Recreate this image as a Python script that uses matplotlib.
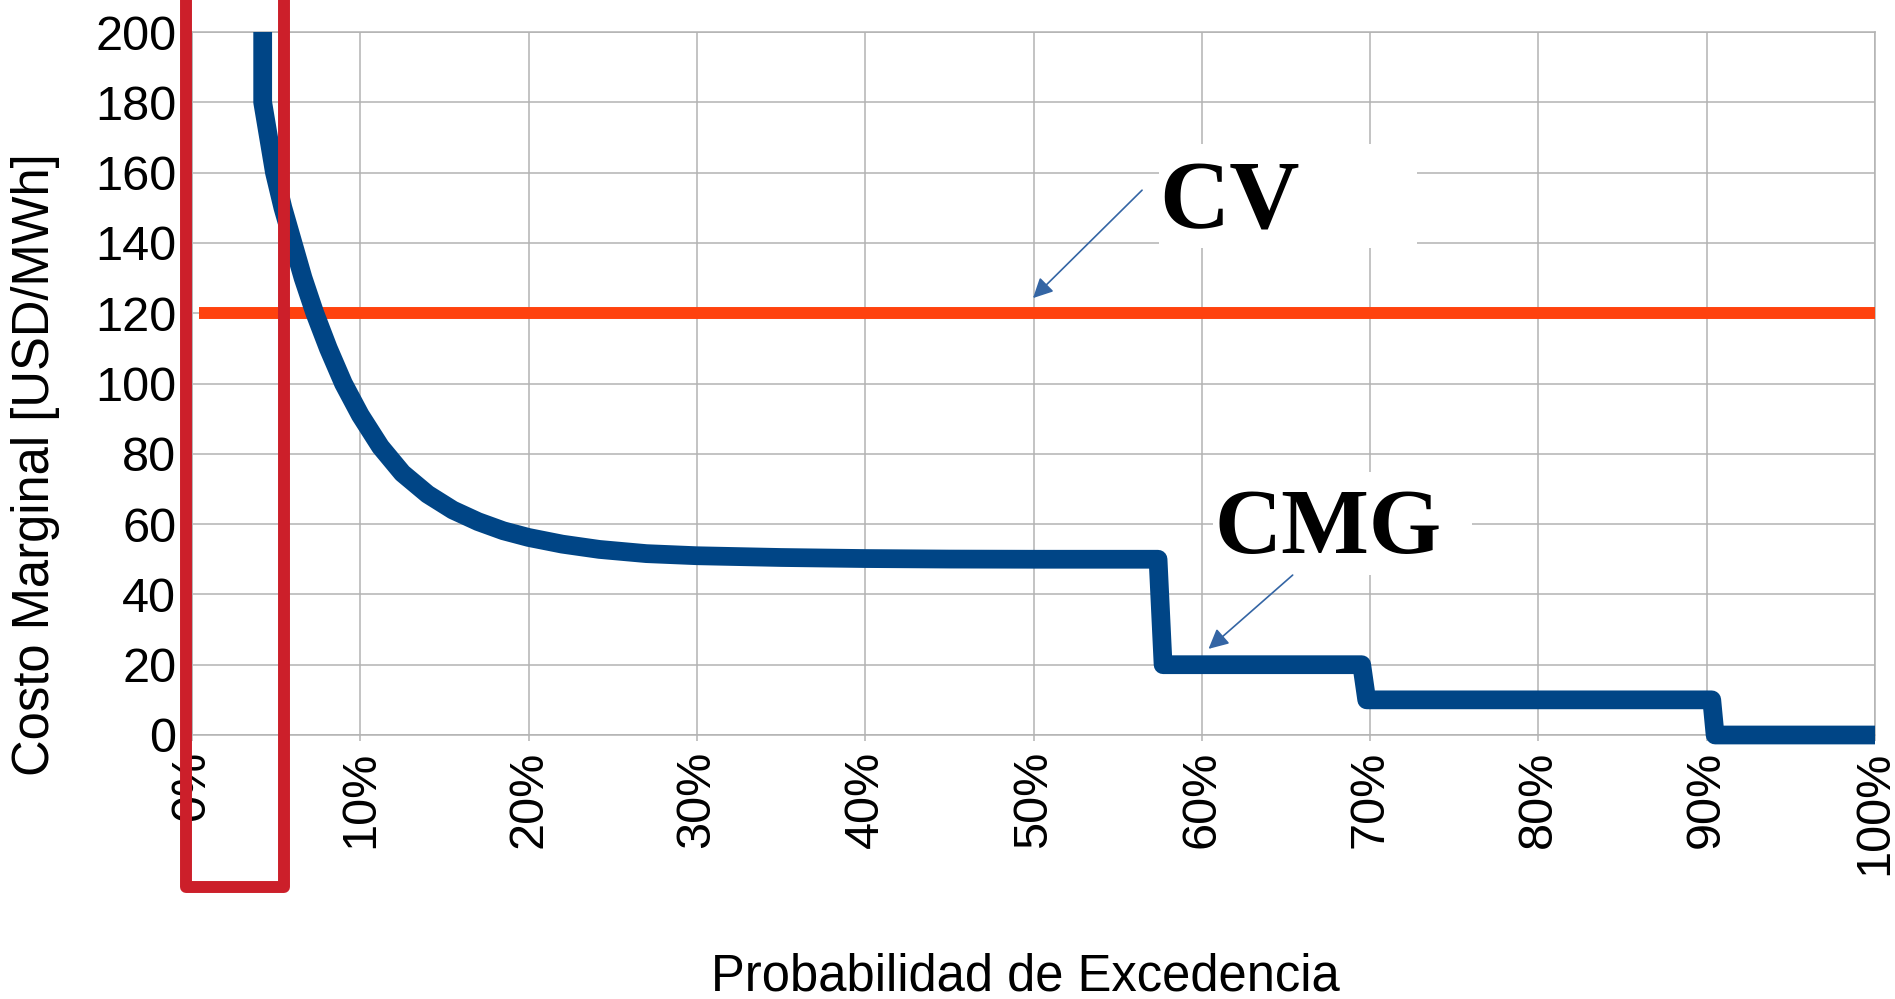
import matplotlib.pyplot as plt
from matplotlib.lines import Line2D
from matplotlib.patches import Rectangle, FancyArrowPatch

plt.rcParams['font.family'] = ['Liberation Sans', 'DejaVu Sans']

# Curva de costo marginal (CMG) vs probabilidad de excedencia [%]
prob = [4.2, 4.2, 4.55, 4.9, 5.4, 6.0, 6.6, 7.3, 8.1, 9.0, 10.0, 11.2, 12.5,
        14.0, 15.5, 17.0, 18.5, 20.0, 22.0, 24.2, 27.0, 30.0, 35.0, 40.0,
        45.0, 50.0, 57.4, 57.7, 69.5, 69.8, 90.3, 90.5, 100.0]
cmg = [200, 180, 170, 160, 150, 140, 130, 120, 110, 100, 91, 82, 74.5,
       68.5, 64, 60.7, 58.1, 56.2, 54.3, 52.8, 51.6, 51, 50.5, 50.2,
       50.05, 50, 50, 20, 20, 10, 10, 0, 0]

# Costo variable (CV)
cv_x = [0.4, 100]
cv_y = [120, 120]

xticks = list(range(0, 101, 10))
xlabels = [f'{t}%' for t in xticks]
yticks = list(range(0, 201, 20))

W, H = 1895, 999
fig = plt.figure(figsize=(W / 100, H / 100), dpi=100)
ax = fig.add_axes([192 / W, 1 - 735 / H, (1875 - 192) / W, (735 - 32) / H])

grid_c = '#b3b3b3'
ax.set_xlim(0, 100)
ax.set_ylim(0, 200)
ax.set_xticks(xticks)
ax.set_xticklabels(xlabels, rotation=90, va='top', ha='center')
ax.set_yticks(yticks)
ax.grid(True, color=grid_c, lw=1.1)
ax.set_axisbelow(True)
for s in ax.spines.values():
    s.set_color(grid_c)
    s.set_linewidth(1.1)
ax.tick_params(direction='out', length=4.3, width=1.1, color=grid_c,
               labelsize=35, pad=7)

ax.plot(cv_x, cv_y, color='#ff420e', lw=8.6, solid_capstyle='butt', zorder=3)
ax.plot(prob, cmg, color='#004586', lw=13.5, solid_capstyle='butt',
        solid_joinstyle='round', zorder=4, clip_on=False)

# cajas de texto blancas y etiquetas
ax.add_patch(Rectangle((57.46, 138.5), 15.33, 29.6, facecolor='white',
                       edgecolor='none', zorder=2))
ax.add_patch(Rectangle((60.67, 45.5), 15.38, 29.3, facecolor='white',
                       edgecolor='none', zorder=2))
ax.text(57.5, 144.2, 'CV', fontsize=70, fontweight='bold',
        family='Liberation Serif', va='baseline', ha='left', zorder=5)
ax.text(60.75, 51.8, 'CMG', fontsize=67, fontweight='bold',
        family='Liberation Serif', va='baseline', ha='left', zorder=5)

arrow_c = '#3465a4'
ax.add_patch(FancyArrowPatch((56.45, 155.0), (49.97, 124.3), arrowstyle='-|>',
                             mutation_scale=30, color=arrow_c, lw=1.2,
                             shrinkA=0, shrinkB=0, zorder=6))
ax.add_patch(FancyArrowPatch((65.4, 45.5), (60.4, 24.5), arrowstyle='-|>',
                             mutation_scale=30, color=arrow_c, lw=1.2,
                             shrinkA=0, shrinkB=0, zorder=6))

fig.text(36 / W, 1 - 465 / H, 'Costo Marginal [USD/MWh]', rotation=90,
         fontsize=36.5, ha='center', va='center')
fig.text(1025 / W, 1 - 977 / H, 'Probabilidad de Excedencia', fontsize=36.5,
         ha='center', va='center')

# recuadro rojo de resaltado
bx = [186 / W, 186 / W, 283.5 / W, 283.5 / W]
by = [1 + 20 / H, 1 - 887 / H, 1 - 887 / H, 1 + 20 / H]
fig.add_artist(Line2D(bx, by, transform=fig.transFigure, color='#cc1f2a',
                      lw=8.6, solid_joinstyle='round', zorder=10))

fig.savefig('out.png', dpi=100)
